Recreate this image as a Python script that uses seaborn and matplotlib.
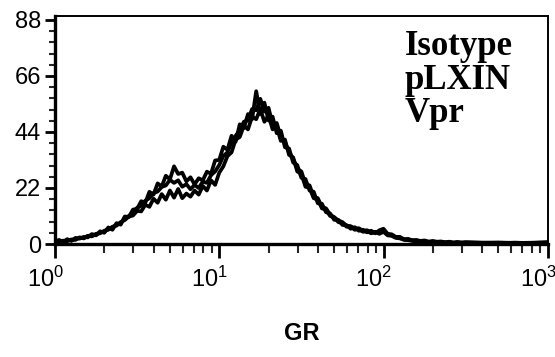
import numpy as np
import pandas as pd
import matplotlib
matplotlib.use('Agg')
import matplotlib.pyplot as plt
import matplotlib.transforms as mtransforms
from matplotlib.ticker import FixedLocator, NullFormatter
import seaborn as sns

# bin centres in decades of GR fluorescence (10^0 .. 10^3)
gr_decades = [0.000, 0.025, 0.050, 0.075, 0.100, 0.125, 0.150, 0.175, 0.200, 0.225,
              0.250, 0.275, 0.300, 0.325, 0.350, 0.375, 0.400, 0.425, 0.450, 0.475,
              0.500, 0.525, 0.550, 0.575, 0.600, 0.625, 0.650, 0.675, 0.700, 0.725,
              0.750, 0.775, 0.800, 0.825, 0.850, 0.875, 0.900, 0.925, 0.950, 0.975,
              1.000, 1.025, 1.050, 1.075, 1.100, 1.125, 1.150, 1.175, 1.200, 1.225,
              1.250, 1.275, 1.300, 1.325, 1.350, 1.375, 1.400, 1.425, 1.450, 1.475,
              1.500, 1.525, 1.550, 1.575, 1.600, 1.625, 1.650, 1.675, 1.700, 1.725,
              1.750, 1.775, 1.800, 1.825, 1.850, 1.875, 1.900, 1.925, 1.950, 1.975,
              2.000, 2.025, 2.050, 2.075, 2.100, 2.125, 2.150, 2.175, 2.200, 2.225,
              2.250, 2.275, 2.300, 2.325, 2.350, 2.375, 2.400, 2.425, 2.450, 2.475,
              2.500, 2.600, 2.700, 2.800, 2.900, 3.000]

isotype = [0.6, 0.9, 1.3, 1.1, 1.8, 1.6, 2.6, 2.2, 3.2, 3.0,
           4.0, 4.2, 5.2, 5.6, 6.8, 7.2, 8.6, 9.4, 10.8, 11.2,
           13.0, 12.8, 15.4, 14.6, 17.8, 16.2, 19.6, 17.4, 21.0, 18.2,
           21.6, 18.0, 19.8, 18.6, 21.0, 19.4, 22.8, 21.0, 25.0, 23.2,
           28.0, 30.5, 34.5, 36.0, 41.0, 42.0, 46.5, 45.0, 50.0, 49.0,
           53.0, 48.0, 50.5, 45.0, 46.0, 40.5, 41.0, 35.0, 34.0, 28.5,
           27.5, 22.5, 22.0, 18.0, 17.5, 14.0, 13.5, 11.0, 10.5, 8.6,
           8.2, 6.8, 6.8, 5.6, 5.8, 4.8, 5.0, 4.2, 4.6, 4.0,
           4.8, 3.4, 3.2, 2.4, 2.2, 1.6, 1.5, 1.2, 1.1, 0.9,
           0.9, 0.7, 0.8, 0.6, 0.7, 0.5, 0.6, 0.4, 0.5, 0.4,
           0.5, 0.4, 0.3, 0.5, 0.3, 0.5]

plxin = [1.0, 1.6, 0.8, 1.9, 1.2, 2.4, 2.1, 2.8, 2.6, 3.9,
         3.4, 5.0, 4.4, 6.5, 5.6, 8.2, 7.6, 10.8, 10.6, 13.5,
         13.8, 16.8, 16.2, 20.5, 19.4, 23.8, 22.6, 26.8, 25.4, 30.5,
         27.5, 28.0, 24.6, 26.2, 23.4, 25.8, 25.0, 28.4, 27.6, 32.8,
         33.0, 38.2, 37.0, 42.5, 40.2, 47.0, 45.5, 51.0, 49.0, 60.0,
         51.0, 55.5, 48.5, 50.0, 43.5, 44.5, 38.0, 37.5, 32.0, 31.0,
         26.0, 25.5, 21.0, 20.5, 16.0, 15.8, 12.5, 12.0, 9.5, 9.5,
         7.5, 7.4, 6.0, 6.6, 5.2, 5.6, 4.6, 5.2, 4.2, 5.4,
         6.0, 4.0, 3.8, 2.8, 2.8, 1.8, 2.0, 1.4, 1.6, 1.2,
         1.4, 0.9, 1.2, 0.9, 1.0, 0.7, 0.9, 0.6, 0.8, 0.6,
         0.7, 0.5, 0.6, 0.4, 0.5, 0.7]

vpr = [0.8, 1.2, 1.0, 1.6, 1.5, 2.0, 2.4, 2.3, 3.2, 3.3,
       3.6, 4.6, 4.8, 6.0, 6.2, 7.8, 8.0, 10.2, 11.0, 12.4,
       14.2, 15.0, 17.0, 18.0, 20.0, 20.6, 22.4, 23.0, 25.2, 24.0,
       25.0, 22.5, 23.5, 21.5, 23.2, 22.0, 24.5, 24.0, 27.0, 28.5,
       31.0, 34.5, 36.0, 40.0, 42.5, 44.5, 48.0, 48.5, 53.0, 52.5,
       57.0, 52.0, 53.5, 47.0, 47.5, 42.0, 40.0, 36.0, 33.5, 29.5,
       28.5, 23.5, 23.0, 18.5, 18.0, 14.5, 14.0, 11.5, 10.5, 9.2,
       8.6, 7.2, 7.0, 6.0, 6.2, 5.2, 5.4, 4.6, 4.8, 4.4,
       5.2, 3.8, 3.4, 2.6, 2.4, 1.9, 1.8, 1.5, 1.3, 1.1,
       1.1, 0.9, 0.9, 0.8, 0.8, 0.6, 0.7, 0.5, 0.6, 0.5,
       0.6, 0.5, 0.4, 0.5, 0.4, 0.6]

labels = ['Isotype', 'pLXIN', 'Vpr']
y_ticks = [0, 22, 44, 66, 88]
x_ticks = [1, 10, 100, 1000]
x_ticklabels = [r'$10^{0}$', r'$10^{1}$', r'$10^{2}$', r'$10^{3}$']

sns.set_theme(style='ticks')
plt.rcParams['font.family'] = ['Liberation Sans', 'DejaVu Sans']
plt.rcParams['text.color'] = 'black'
plt.rcParams['axes.labelcolor'] = 'black'
plt.rcParams['mathtext.fontset'] = 'custom'
plt.rcParams['mathtext.rm'] = 'Liberation Sans'
plt.rcParams['mathtext.it'] = 'Liberation Sans:italic'

df = pd.DataFrame({
    'gr': np.power(10.0, gr_decades * 3),
    'count': isotype + plxin + vpr,
    'sample': np.repeat(labels, len(gr_decades)),
})

fig = plt.figure(figsize=(5.55, 3.57), dpi=100)
ax = fig.add_axes([0.099, 0.3165, 0.888, 0.6385])

sns.lineplot(data=df, x='gr', y='count', units='sample', estimator=None,
             color='black', linewidth=2.7, ax=ax, legend=False)

ax.set_xscale('log')
ax.set_xlim(1, 1000)
ax.set_ylim(0, 89.5)

ax.set_yticks(y_ticks)
ax.yaxis.set_minor_locator(FixedLocator(np.arange(0, 89, 4.4)))
ax.set_xticks(x_ticks)
ax.set_xticklabels(x_ticklabels)
ax.xaxis.set_minor_formatter(NullFormatter())

ax.tick_params(axis='both', which='major', labelsize=17, color='black',
               labelcolor='black', direction='out')
ax.tick_params(axis='y', which='major', length=7, width=2.0, pad=3)
ax.tick_params(axis='y', which='minor', length=4, width=1.5)
ax.tick_params(axis='x', which='major', length=10, width=2.0, pad=6)
ax.tick_params(axis='x', which='minor', length=6.5, width=1.5)

# shift the decade labels left so the "10" sits just before its tick
shift = mtransforms.ScaledTranslation(-7 / 72, 0, fig.dpi_scale_trans)
for lab in ax.get_xticklabels():
    lab.set_transform(lab.get_transform() + shift)

for side in ['left', 'bottom']:
    ax.spines[side].set_linewidth(2.4)
    ax.spines[side].set_color('black')
for side in ['top', 'right']:
    ax.spines[side].set_visible(True)
    ax.spines[side].set_linewidth(1.4)
    ax.spines[side].set_color('black')

ax.set_xlabel('GR', fontsize=17, fontweight='bold', labelpad=22)
ax.set_ylabel('')

for i, lab in enumerate(labels):
    ax.text(0.71, 0.83 - i * 0.148, lab, transform=ax.transAxes,
            fontsize=25, fontweight='bold', family='Liberation Serif',
            ha='left', va='baseline', color='black')

fig.savefig('out.png', dpi=100, facecolor='white')
